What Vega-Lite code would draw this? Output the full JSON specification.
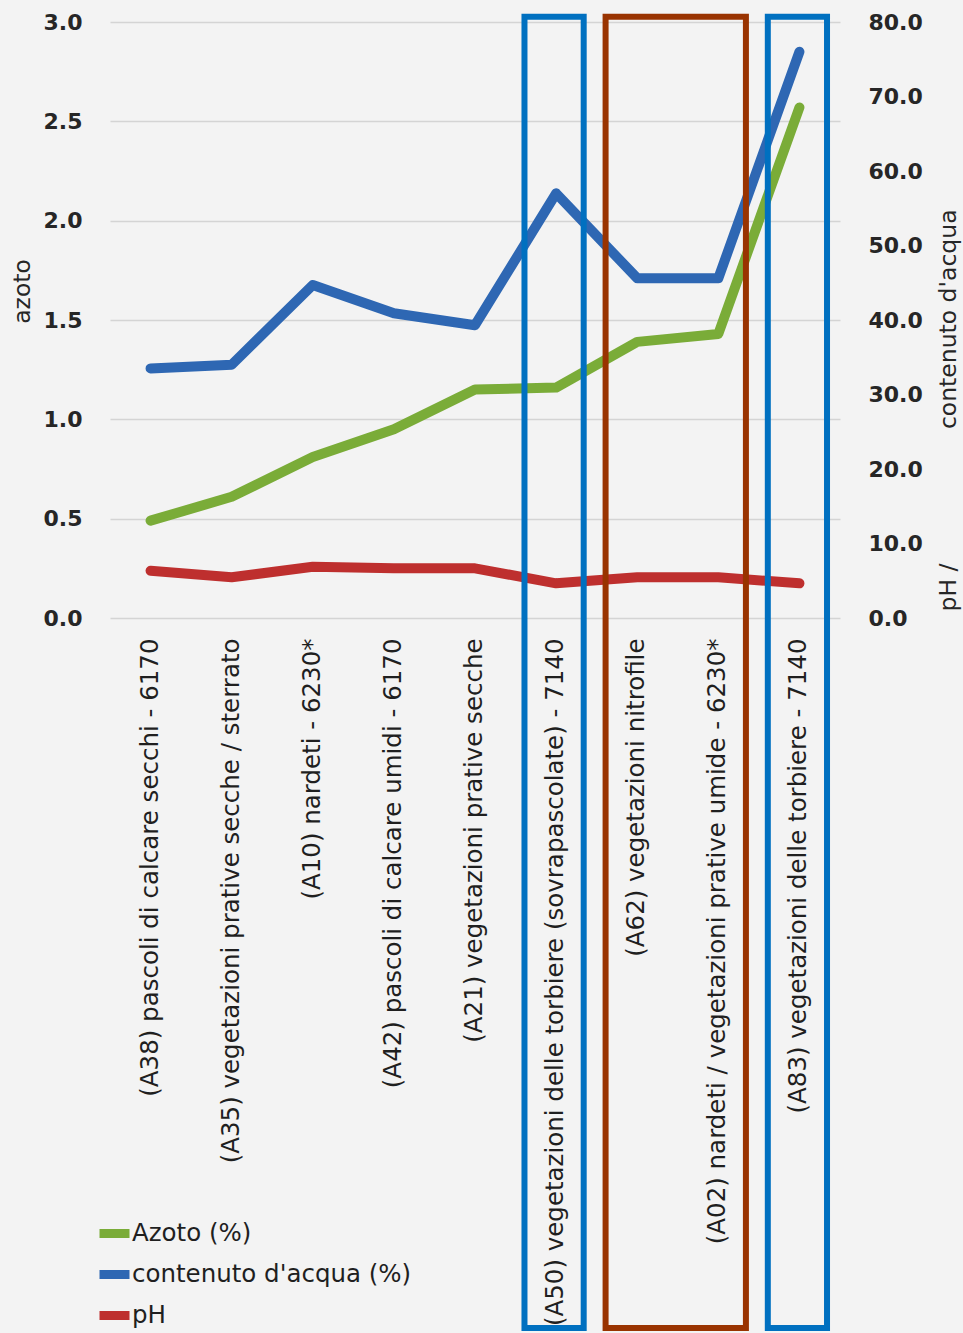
{
  "$schema": "https://vega.github.io/schema/vega-lite/v6.json",
  "width": 730,
  "height": 596,
  "autosize": {"type": "none"},
  "padding": {"left": 110, "top": 22, "right": 123, "bottom": 715},
  "background": "#F3F3F3",
  "config": {
    "view": {"stroke": null},
    "font": "DejaVu Sans",
    "axis": {"labelColor": "#262626", "titleColor": "#262626"}
  },
  "datasets": {
    "misure": [
      {"categoria": "(A38) pascoli di calcare secchi - 6170", "serie": "Azoto (%)", "valore": 0.49},
      {"categoria": "(A35) vegetazioni prative secche / sterrato", "serie": "Azoto (%)", "valore": 0.61},
      {"categoria": "(A10) nardeti - 6230*", "serie": "Azoto (%)", "valore": 0.81},
      {"categoria": "(A42) pascoli di calcare umidi - 6170", "serie": "Azoto (%)", "valore": 0.95},
      {"categoria": "(A21) vegetazioni prative secche", "serie": "Azoto (%)", "valore": 1.15},
      {"categoria": "(A50) vegetazioni delle torbiere (sovrapascolate) - 7140", "serie": "Azoto (%)", "valore": 1.16},
      {"categoria": "(A62) vegetazioni nitrofile", "serie": "Azoto (%)", "valore": 1.39},
      {"categoria": "(A02) nardeti / vegetazioni prative umide - 6230*", "serie": "Azoto (%)", "valore": 1.43},
      {"categoria": "(A83) vegetazioni delle torbiere - 7140", "serie": "Azoto (%)", "valore": 2.57},
      {"categoria": "(A38) pascoli di calcare secchi - 6170", "serie": "contenuto d'acqua (%)", "valore": 33.5},
      {"categoria": "(A35) vegetazioni prative secche / sterrato", "serie": "contenuto d'acqua (%)", "valore": 34.0},
      {"categoria": "(A10) nardeti - 6230*", "serie": "contenuto d'acqua (%)", "valore": 44.7},
      {"categoria": "(A42) pascoli di calcare umidi - 6170", "serie": "contenuto d'acqua (%)", "valore": 40.9},
      {"categoria": "(A21) vegetazioni prative secche", "serie": "contenuto d'acqua (%)", "valore": 39.3},
      {"categoria": "(A50) vegetazioni delle torbiere (sovrapascolate) - 7140", "serie": "contenuto d'acqua (%)", "valore": 57.0},
      {"categoria": "(A62) vegetazioni nitrofile", "serie": "contenuto d'acqua (%)", "valore": 45.6},
      {"categoria": "(A02) nardeti / vegetazioni prative umide - 6230*", "serie": "contenuto d'acqua (%)", "valore": 45.6},
      {"categoria": "(A83) vegetazioni delle torbiere - 7140", "serie": "contenuto d'acqua (%)", "valore": 76.0},
      {"categoria": "(A38) pascoli di calcare secchi - 6170", "serie": "pH", "valore": 6.35},
      {"categoria": "(A35) vegetazioni prative secche / sterrato", "serie": "pH", "valore": 5.46},
      {"categoria": "(A10) nardeti - 6230*", "serie": "pH", "valore": 6.89},
      {"categoria": "(A42) pascoli di calcare umidi - 6170", "serie": "pH", "valore": 6.67},
      {"categoria": "(A21) vegetazioni prative secche", "serie": "pH", "valore": 6.67},
      {"categoria": "(A50) vegetazioni delle torbiere (sovrapascolate) - 7140", "serie": "pH", "valore": 4.65},
      {"categoria": "(A62) vegetazioni nitrofile", "serie": "pH", "valore": 5.46},
      {"categoria": "(A02) nardeti / vegetazioni prative umide - 6230*", "serie": "pH", "valore": 5.46},
      {"categoria": "(A83) vegetazioni delle torbiere - 7140", "serie": "pH", "valore": 4.65}
    ],
    "riquadri": [
      {"da": "(A50) vegetazioni delle torbiere (sovrapascolate) - 7140", "a": "(A50) vegetazioni delle torbiere (sovrapascolate) - 7140", "gruppo": "torbiere"},
      {"da": "(A62) vegetazioni nitrofile", "a": "(A02) nardeti / vegetazioni prative umide - 6230*", "gruppo": "A62-A02"},
      {"da": "(A83) vegetazioni delle torbiere - 7140", "a": "(A83) vegetazioni delle torbiere - 7140", "gruppo": "torbiere"}
    ]
  },
  "layer": [
    {
      "layer": [
        {
          "data": {"name": "misure"},
          "transform": [{"filter": "datum.serie === 'Azoto (%)'"}],
          "mark": {"type": "line", "strokeWidth": 10, "strokeCap": "round", "strokeJoin": "round"},
          "encoding": {
            "x": {
              "field": "categoria",
              "type": "nominal",
              "title": null,
              "scale": {
                "type": "band",
                "paddingInner": 0,
                "paddingOuter": 0,
                "domain": [
                  "(A38) pascoli di calcare secchi - 6170",
                  "(A35) vegetazioni prative secche / sterrato",
                  "(A10) nardeti - 6230*",
                  "(A42) pascoli di calcare umidi - 6170",
                  "(A21) vegetazioni prative secche",
                  "(A50) vegetazioni delle torbiere (sovrapascolate) - 7140",
                  "(A62) vegetazioni nitrofile",
                  "(A02) nardeti / vegetazioni prative umide - 6230*",
                  "(A83) vegetazioni delle torbiere - 7140"
                ]
              },
              "axis": {
                "labelAngle": -90,
                "labelFontSize": 24.5,
                "labelPadding": 20,
                "labelLimit": 900,
                "ticks": false,
                "domain": false,
                "grid": false,
                "labelColor": "#1f1f1f"
              }
            },
            "y": {
              "field": "valore",
              "type": "quantitative",
              "scale": {"domain": [0, 3]},
              "axis": {
                "title": "azoto",
                "values": [0, 0.5, 1, 1.5, 2, 2.5, 3],
                "format": ".1f",
                "labelFontSize": 22,
                "labelFontWeight": "bold",
                "labelPadding": 28,
                "ticks": false,
                "domain": false,
                "grid": true,
                "gridColor": "#D4D4D4",
                "gridWidth": 1.5,
                "titleFontSize": 23.5,
                "titleFontWeight": "normal",
                "titleAngle": -90,
                "titleX": -88,
                "titleY": 269,
                "titleAlign": "center",
                "titleBaseline": "middle"
              }
            },
            "color": {
              "field": "serie",
              "type": "nominal",
              "scale": {
                "domain": ["Azoto (%)", "contenuto d'acqua (%)", "pH"],
                "range": ["#7AAC38", "#2E67B3", "#BE2F2E"]
              },
              "legend": {
                "orient": "none",
                "legendX": -15,
                "legendY": 1192,
                "title": null,
                "padding": 0,
                "symbolType": "stroke",
                "symbolStrokeWidth": 9,
                "symbolSize": 900,
                "labelFontSize": 24.5,
                "labelLimit": 500,
                "labelColor": "#1f1f1f",
                "labelOffset": -2,
                "rowPadding": 3
              }
            }
          }
        }
      ]
    },
    {
      "layer": [
        {
          "data": {"name": "misure"},
          "transform": [{"filter": "datum.serie !== 'Azoto (%)'"}],
          "mark": {"type": "line", "strokeWidth": 10, "strokeCap": "round", "strokeJoin": "round"},
          "encoding": {
            "x": {"field": "categoria", "type": "nominal", "title": null},
            "y": {
              "field": "valore",
              "type": "quantitative",
              "scale": {"domain": [0, 80]},
              "axis": {
                "orient": "right",
                "title": "pH /\u00a0\u00a0\u00a0\u00a0\u00a0\u00a0\u00a0\u00a0\u00a0\u00a0\u00a0\u00a0\u00a0\u00a0\u00a0\u00a0\u00a0 contenuto d'acqua",
                "values": [0, 10, 20, 30, 40, 50, 60, 70, 80],
                "format": ".1f",
                "labelFontSize": 22,
                "labelFontWeight": "bold",
                "labelPadding": 28,
                "ticks": false,
                "domain": false,
                "grid": false,
                "titleFontSize": 23.5,
                "titleFontWeight": "normal",
                "titleAngle": -90,
                "titleX": 108,
                "titleY": 388,
                "titleAlign": "center",
                "titleBaseline": "middle"
              }
            },
            "color": {"field": "serie", "type": "nominal"}
          }
        },
        {
          "data": {"name": "riquadri"},
          "mark": {"type": "rect", "filled": false, "strokeWidth": 6},
          "encoding": {
            "x": {"field": "da", "type": "nominal", "bandPosition": 0.11, "title": null},
            "x2": {"field": "a", "bandPosition": 0.84},
            "y": {"datum": 80.7, "type": "quantitative"},
            "y2": {"datum": -95.3},
            "stroke": {
              "field": "gruppo",
              "type": "nominal",
              "scale": {"domain": ["torbiere", "A62-A02"], "range": ["#0070C0", "#993300"]},
              "legend": null
            }
          }
        }
      ]
    }
  ],
  "resolve": {"scale": {"y": "independent"}}
}
